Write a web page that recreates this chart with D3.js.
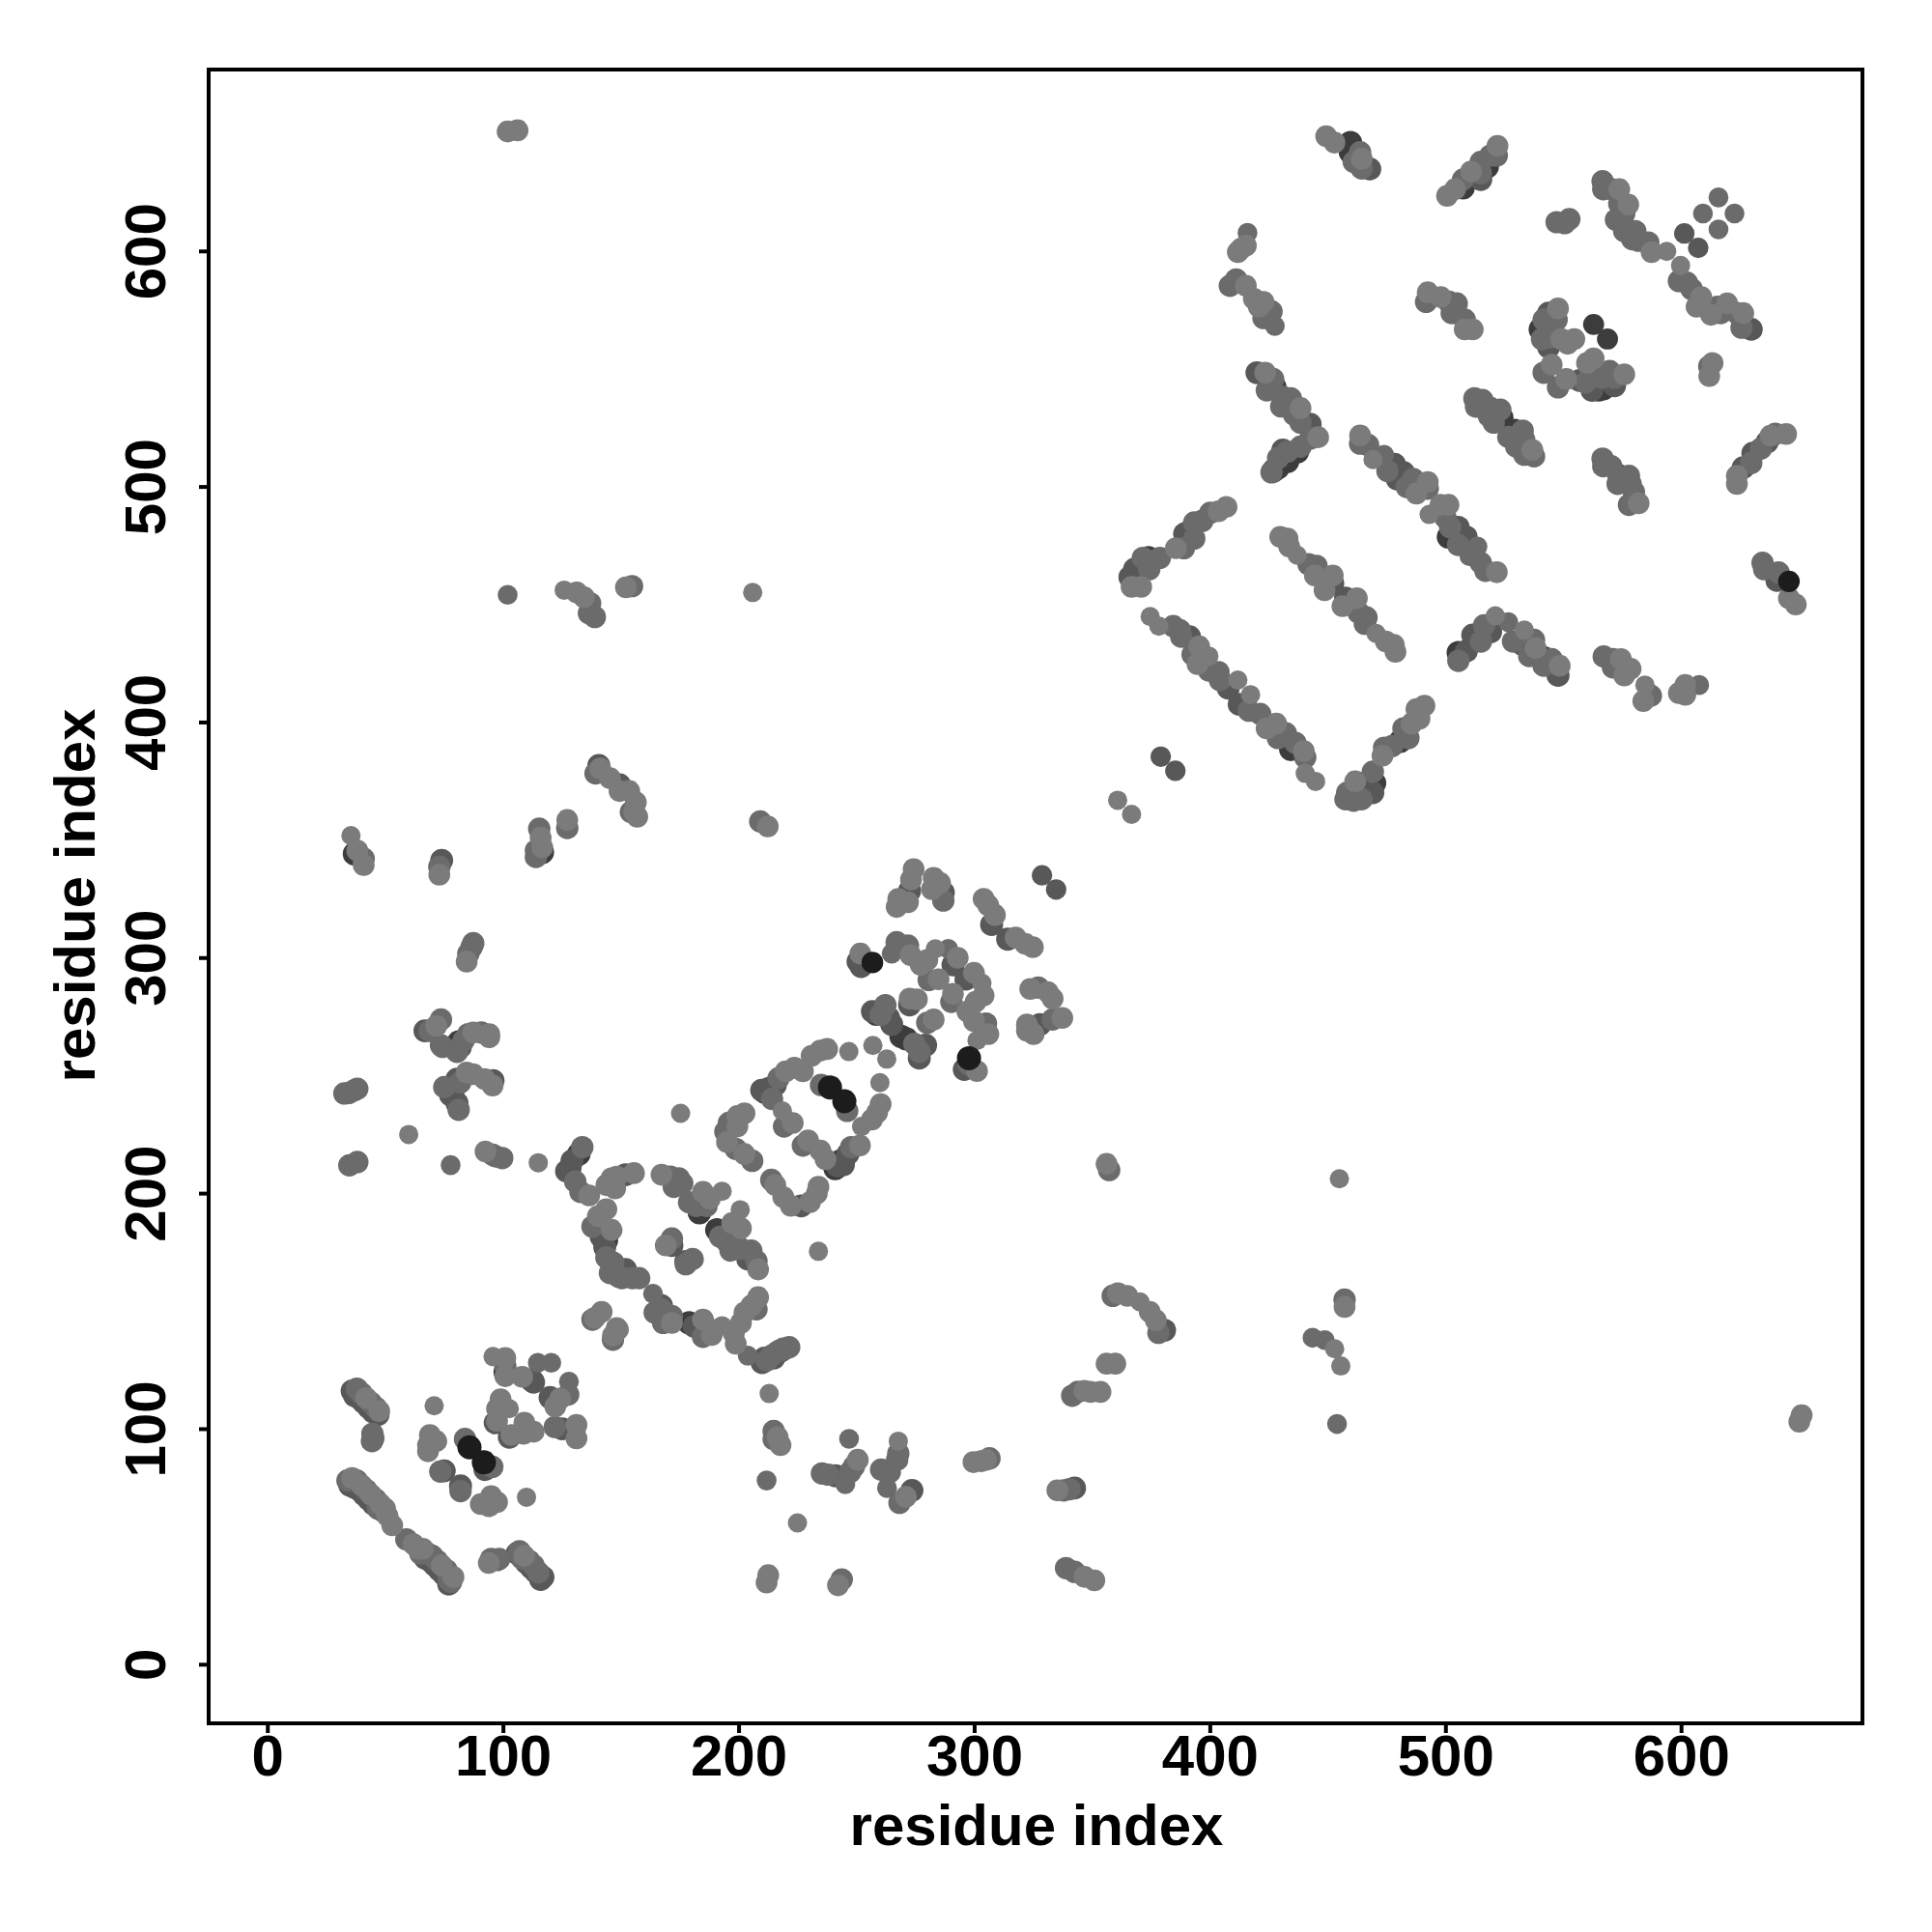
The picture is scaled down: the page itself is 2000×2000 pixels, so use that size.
<!DOCTYPE html>
<html><head><meta charset="utf-8"><script src="https://cdn.jsdelivr.net/npm/d3@7"></script>
<style>html,body{margin:0;background:#fff}svg{display:block}text{font-family:"Liberation Sans",Arial,sans-serif;font-weight:bold;fill:#000}</style></head>
<body><div id="c"></div>
<script>
const xTicks=[0,100,200,300,400,500,600];
const yTicks=[0,100,200,300,400,500,600];
const axisTitle="residue index";
const shades=["#7b7b7b","#6b6b6b","#585858","#3c3c3c","#1c1c1c"];
const drawRank=[3,2,1,0,4];
// each contact: [residue i, residue j, shade index]
const lowerLeft=[
[34,78,1],[35,76,2],[36,79,0],[37,75,2],[38,78,1],[39,74,2],[40,76,0],[41,72,2],[42,74,1],[43,70,2],[44,72,0],[45,68,2],[46,70,1],[47,66,1],[48,68,0],[49,65,1],[50,66,0],[51,63,0],[53,59,0],[59,53,1],[62,51,0],[64,49,0],[65,47,1],[66,49,0],[67,45,2],[68,47,1],[69,44,2],[70,46,1],[71,42,2],[72,44,1],[73,40,2],[74,42,0],[75,38,2],[76,40,1],[77,34,2],[77,36,1],[78,35,1],[79,37,0],
[36,116,2],[37,114,2],[38,117,1],[39,113,2],[40,115,1],[41,111,2],[42,113,0],[43,109,2],[44,111,1],[45,107,2],[46,109,1],[47,106,2],[47.5,107.5,0],
[44.4,94.7,1],[44.6,97.8,1],[45,96,1],
[70.8,109.7,0],[68.2,90.4,0],[68.2,93,0],[71.7,94.7,0],[69,97.3,0],
[83.9,95.6,1],[85.8,92.1,4],[92.4,82.6,2],[91.9,85.7,4],[95.5,83.8,1],
[73.4,81.8,1],[75.1,82.1,2],[82,73.5,1],[82,75.7,2],
[90.6,68,0],[94.1,67.1,0],[95,71.4,0],[97.5,68.8,0],[110,70.9,0],
[94,43,0],[95,44.7,1],[97.5,44.2,1],[98.4,44.7,1],
[106,47,2],[107,48,1],[108,45,1],[109,46,0],[110,43,2],[111,44,1],[112,41,2],[113,42,1],[114,39,2],[115,39,1],[116,36,2],[117,37,2],
[95.8,130.6,0],[101,122.3,0],[101,124,3],[101,126.6,1],[101,130,0],
[108.2,122,0],[114.8,128,1],[120.5,128,1],[112.2,120.6,3],[113,119.7,2],[128,120,1],[127.7,114.5,1],[120,113.2,2],[124.3,112.8,0],[122.2,109.4,0],
[96.7,102.5,2],[97.5,103.3,0],[97.5,108.5,0],[99,112.5,0],[102.7,108.5,0],
[102.7,96.4,2],[103.6,97.3,0],[108.7,97.8,0],[109.1,102.5,0],[113,98.7,0],
[122,100.7,1],[125.1,99.9,2],[131.2,95.9,0],[130.3,99.9,2],[131.2,101.6,0],
[138,146.3,1],[139,147,0],[141.9,149.6,0],[146.7,137.8,1],[146.7,139.6,0],[148.8,142.1,0],[148.3,142.7,0],
[213,114.9,0],[214.9,99,1],[214.9,95.6,1],[216.6,96.4,0],[217.8,93,0],[211.9,78,1],[225,60,0],[211.9,34.7,0],[212.6,37.8,0],
[60,224.9,0],[34.8,211.8,1],[38.2,213.2,1],[77.8,211.9,1],[92.6,217.7,0],[95.6,216.3,1],[96.9,215.6,1],[99.7,214.9,1],[115,212.9,0]
];
const firstRing=[
[210,128,2],[211,130,2],[212,129,1],[213,130,2],[214,131,1],[215,130,2],[216,132,2],[217,133,1],[218,133,2],[219,134,1],[220,134,1],[221.5,134.6,1],
[203.9,131,1],[198.8,136.1,0],[198,140.5,0],[201,144.9,0],[202.5,149.3,0],[207.6,150.7,1],[205.4,152.2,0],[208.3,155.8,0],
[193,143.7,0],[179,144.9,3],[181.2,143.4,2],[184.9,139,1],[187.8,141.9,2],[188.6,139.8,0],[184.9,146.3,0],
[164.4,149.3,1],[168,144.9,1],[171.7,144.9,0],[171.7,147.8,1],[167.3,150.7,1],[167.3,152.2,2],[163.7,157.3,1],
[143.9,172.7,1],[145.4,166.1,1],[146.8,170.5,1],[149,164.6,1],[150.5,163.9,1],[152,167.6,2],[154.9,163.9,1],[157.8,163.9,1],
[143.2,177.1,2],[143.9,180,3],[141.7,181.5,2],[138,185.8,1],[146.1,184.4,0],[140.3,190.2,0],[143.9,193.2,0],
[132.9,200.5,1],[127,209.3,2],[128.5,210.7,2],[129.3,213.7,2],[130.7,204.9,1],[136.6,199,0],[132.2,216.6,3],[133.7,219.5,1],
[143.9,203.4,0],[147.6,202,0],[146.1,206.3,0],[148.3,207,0],[152,207.8,2],[155.6,208.5,0],
[169.1,177.8,0],[171.7,177.8,2],[171.7,180.7,1],[177.6,169.8,1],[177.6,171,2],[180.5,172,1],
[167.3,207.8,0],[171,207,1],[174.6,206.3,1],[172.5,202.7,1],[176.1,204.2,1],[179,196.1,1],[182,194.6,1],[183.4,191.7,3],[186.4,194.6,1],[184.9,200.5,0],[187.8,197.6,0],[193,200.8,0],
[200.7,192.9,0],[190.8,184.4,3],[192.2,181.5,1],[195.1,179.3,1],[196.6,175.6,1],[197.3,187.3,0],[201,185.1,0],[201,176.4,1],[203.9,172,2],[205.4,175.6,1],[207.6,171.2,1],[208.3,167.6,0],
[175.4,233.9,0],[233.9,175.3,0]
];
const secondRing=[
[202.5,233.9,0],[199.5,232.7,0],[195.9,229.8,1],[194.4,226.1,1],[195.1,221.7,0],[199.5,228.3,0],[198.8,218.8,1],[202.5,216.6,0],[205.8,213.7,1],
[213.9,205.6,1],[215.6,203.4,0],[219,198.3,0],[222.2,194.6,0],[226.6,194.6,2],[230.3,196.1,0],[233.2,199.8,0],[233.9,202.7,0],
[209.8,243.7,2],[211.2,242.9,3],[212.7,244.4,2],[214.2,240,1],[215.6,245.9,2],[217,248.8,1],[220,251.7,0],[223.7,253.2,0],[227.3,251.7,0],[231,258.3,0],[234.7,260.5,0],[237.6,261.2,0],
[219.3,228.3,1],[218.6,234.9,0],[223,229.8,0],[227.3,220.2,1],[229.5,222.4,0],[234.7,218.1,0],[236.9,214.4,0],
[241,210.5,3],[242,211.5,2],[243.4,213.7,3],[244.5,212,2],[246.4,216.6,2],[247.8,219.5,1],[251.5,220.2,0],[252.2,228.3,0],[256.6,231.2,0],[258.8,234.2,0],[260.3,237.8,0],
[235,245.9,1],[238.8,244.9,4],[244.9,239,4],[246.1,234.9,1],[246.8,260.1,0],[257,262.7,0],[262.9,256.9,0],[260,246.9,0]
];
const thirdRing=[
[328.8,334.9,2],[334.8,328.9,2],
[267.8,324.9,0],[267.1,321.5,0],[271.9,323.5,0],[272.6,328.3,2],[273.2,333.1,0],[274.3,337.5,0],[282.8,333.8,0],[282.1,329,0],[285.5,331.7,0],[286.9,324.2,1],[286.9,327.6,2],
[304,324.9,0],[306,322.2,0],[307.4,314,2],[308.8,318.1,0],[314.2,307.8,2],[317.6,308.5,0],[321.7,305.8,0],[324.9,304.4,0],
[250.7,298.3,2],[251.7,301.7,0],[252,296.2,2],[256.8,297.9,4],
[265,301.7,1],[267.1,306.5,1],[271.9,305.1,1],[273,301,0],[277.3,296.9,0],[280.1,299,0],[283.5,303.7,0],[289,303.7,1],[291,296.9,2],[293,299.9,0],[280.7,290.5,1],[284.9,290.8,0],
[296.5,290.8,2],[299.9,293.5,0],[303.3,289.1,0],[304,283.9,0],[300.6,281.2,0],[297.1,277.1,0],[299.9,273,0],[290.3,281.2,1],[291,284.6,0],
[301.2,264.8,0],[305,272,1],[306,267.5,0],
[272.6,279.9,2],[272.6,282.6,0],[275.7,282.3,0],[280.1,272.3,1],[282.8,273.7,0],
[256.8,277.1,2],[258.5,276,3],[260.3,275.7,1],[262.3,279.8,1],[263.7,274.4,2],[265,271.6,2],
[269,266.5,3],[271.2,265.5,3],[274.6,263.4,1],[276.7,257.3,2],[276.7,260,1],[279.4,262.8,2],
[295.8,252.5,2],[297.8,254.6,1],[297.8,257.3,4],[301.2,251.8,0],
[323.8,286.7,0],[327.2,287.3,1],[331.3,285.3,0],[333.3,282.6,0],[322.4,268.9,0],[322.4,271.6,0],[325.2,267.5,0],[327.9,271.6,2],[333.3,273.7,1],[337.4,274.4,0]
];
const upperLeft=[
[102,650.7,0],[106.2,651.2,0],[102,454,1],[126,456,0],[131.3,455,0],[134.4,453,0],[137,450.4,1],[136.5,446.2,1],[139,444.6,1],[152.2,457.2,0],[154.8,457.7,1],[206,455,0],[209.2,357.8,1],[212.4,355.7,0],
[37,344,3],[35.5,351.8,0],[38.2,345.4,0],[40.9,339.3,0],[40.9,342,1],
[73,335.2,0],[73,338.6,1],[74,341.3,2],
[114,342.7,1],[114,345.4,1],[116.7,344.7,3],[116.7,346.8,0],[115.4,354.7,1],[116,350.9,0],
[127.3,358.4,0],[127.3,355,1],
[139.3,378.2,1],[140.7,381.6,2],[141.3,380.3,0],[145.4,376.2,0],[149.5,370.7,0],[149.5,373.4,2],[153.6,370.7,0],[154.3,361.8,1],[155.7,361.8,0],[156.4,365.9,0],[157,359.8,0],
[84.6,298.3,0],[85.3,301.7,1],[86.7,304.4,1],[87.4,306.1,1],
[66.9,268.9,2],[68.9,268.9,1],[71.7,271,0],[73.7,273.7,1],
[73.7,262.8,1],[74.4,262.1,1],[80.5,260,1],[81.2,264.1,3],[81.9,262,2],[83.3,264.8,1],[85.3,267.5,1],[87.4,268.2,0],[90.8,268.2,1],[94.2,266.2,0],[94.2,267.5,0],
[75.1,245,1],[79.2,244.3,2],[80.5,248.4,2],[81.9,247,1],[84.6,251.2,0],[87.4,250.5,0],[77.8,241.6,2],[81.2,235.4,1],[80.5,238.2,2],[92.2,248.4,0],[95.6,245.7,0],[95.8,247.8,2],
[32.7,242.3,1],[34.5,242.5,1],[36.8,243.6,1],[38.2,244.3,1]
];
const lowerRight=[
[356.2,212.4,0],[357.3,209.8,1],[455,206.1,0],
[358.8,156.4,1],[361,157.5,0],[365,156.4,0],[370.4,153.8,0],[374.5,149.6,0],[378.2,140.7,1],[377.1,146,0],[380.8,141.8,2],
[443.6,138.6,1],[448.8,137.6,1],[453,133.9,0],[455.6,126.6,0],[457.2,151.7,0],[457.2,154.8,1],[454,102,1],[650.2,103,0],[651.2,105.7,0],
[356.2,127.6,0],[359.9,127.6,0],[341.6,114,1],[344,115.6,1],[346.8,116.1,0],[349.4,115.6,0],[353.6,115.6,0],
[299.7,85.8,0],[303,86.2,0],[305,86.8,0],[306.5,87.4,1],
[335.3,73.8,0],[338,73.8,1],[340.5,74.3,1],[342.6,74.8,2],
[339,40.8,1],[342.6,39.2,1],[346.8,37.1,0],[351,35.6,0],
[242.2,33.5,0],[243.8,36,1],
[235.4,81,1],[238,80.5,1],[241.1,80,2],[245.3,76.4,1],[246.9,95.7,1],[247.4,81.6,1],[250.6,86.8,0],[249,84,1],
[267.8,94.7,0],[267.8,89.4,1],[267.3,86.8,1],[260.5,82.6,1],[264.2,81.6,1],[263,74.8,1],[268.3,68.5,1],[271,71.1,0],[273.6,73.8,2]
];
const boxStrands=[
[360.9,366.8,0],[366.8,360.8,0],[379.2,385.3,2],[385.4,379.3,2],
[374.7,444.8,0],[378.4,440.7,0],[384.5,440.7,1],[387.3,439,1],[387.9,436.2,1],[391.4,436.2,2],[392.7,428.7,1],[394.8,424.6,0],[395.5,432.1,0],[399.6,421.9,1],[399.6,428,0],[403.7,421.2,1],[404.3,417.8,1],[407.8,414.4,2],[411.9,417.8,0],
[412.5,407.5,2],[416.6,404.8,1],[417.3,411.6,0],[421.4,403.4,1],[424.1,397.3,0],[428.2,399.3,0],[428.9,393.2,1],[432.3,395.2,1],[434.4,388.4,3],[436.4,391.1,1],[439.9,387.7,0],[440.5,385,1],[440.5,378.2,0],[444.9,374.8,0],
[385.6,473.8,0],[389,473.8,1],[389.3,479.9,2],[392,481.3,3],[393.4,477.9,1],[393.4,484.7,1],[396.8,485.4,1],[400.2,488.8,1],[403.7,489.5,0],[407.1,491.3,0],
[366.8,457.4,0],[370.9,457.4,0],[366.1,461.5,2],[369.5,460.8,2],[368.1,464.9,2],[371.6,469.7,1],[374.3,464.9,1],[374,469.7,3],[378.8,469.7,1],
[429.9,478.6,0],[433,477.9,0],[433.7,474.5,0],[437.1,470.8,0],[441.9,467,1],[445.3,466.3,1],[444.6,462.2,0],[448.7,456,0],[452.2,458.8,2],[452.2,462.2,0],
[456.3,449.2,0],[457.6,452.6,2],[463.1,446.5,1],[462.4,452.6,0],[465.8,441.7,1],[466.5,444.4,1],[470.6,437.6,0],[474.7,434.2,0],[478.1,432.8,0],[478.8,429.8,0],
[457.6,367.2,1],[458.3,370,1],[461,366.6,1],[461.7,374.8,0],[464.4,367.2,1],[465.1,374.1,2],[465.8,369.3,3],[469.2,370,2],[469.9,374.1,3],[469.2,378.9,1],
[473.3,385.7,0],[474,389.1,1],[477.4,389.8,1],[480.8,391.8,3],[484.3,393.2,1],[482.2,397.3,1],[485.6,399.3,0],[489,401.4,0],[487.7,405.5,0],[491.1,406.9,0]
];
const upperRight=[
[449.4,648.7,0],[452.9,646,0],[459.7,641.9,3],[459.7,646,3],[461.1,637.8,1],[463.8,641.9,1],[464.5,635,1],[464.5,639.1,0],[467.9,634.8,2],
[500.7,623.4,0],[504.1,626.2,0],[507.5,626.8,3],[507.5,630.3,1],[510.9,633.7,0],[515,630.3,2],[515,633,1],[515,637.8,1],[517.7,635.7,3],[519.1,640.5,1],[521.8,640.5,1],[522.1,644.6,0],
[416,607.7,1],[411.9,599.5,0],[413.2,600.9,0],[415.3,602.3,0],
[408.5,585.2,1],[411.2,587.9,1],[415.3,585.2,0],[418.7,579.7,0],[420.8,576.3,0],[422.8,578.4,0],[422.8,571.5,1],[426.2,574.3,1],[427.6,568.1,1],
[492.5,582.4,0],[491.8,578.4,1],[498,580.4,0],[502.7,573.6,1],[501.4,578.4,1],[504.8,577.7,1],[508.2,570.8,1],[508.2,566.7,0],[511.6,566.7,0],
[420,548.3,2],[423.5,548.3,0],[424.2,540.8,1],[426.9,545.6,1],[427.6,542.1,3],[431,538,1],[434.4,537.4,1],[430.3,534,1],[435.8,530.5,1],[438.5,533.3,0],[438.5,527.1,1],[442.6,526.4,2],[442.6,520.3,1],[446,520.9,0],
[426.2,506,1],[426.9,506.6,3],[429,508,3],[429,512.1,1],[431,515.5,2],[433,510.7,3],[433,514.8,1],[437.2,514.8,3],[438.5,516.9,1],
[463.8,518.2,1],[463.8,521.7,0],[467.2,517.6,1],[469.3,511.4,0],[474,513.5,1],[475.4,506.6,1],[478.4,509.4,2],[479.5,503.2,2],[482.2,505.9,2],[483.6,499.8,1],[486.3,503.2,1],[487.7,497,0],[492.5,499.1,1],[492.5,501.9,0],
[493.1,488.1,0],[497.9,492.2,0],[501.3,492.2,0],[500,486.8,1],[501.3,478.6,3],[502,482.7,1],[505.4,475.2,1],[505.4,482.7,2],[508.8,478.6,2],[510.2,470.4,1],[513.6,474.5,1],[515,467.6,1],[517,464.2,1],[521.8,463.6,0],
[547.2,612.2,1],[550.6,611.8,1],[552.6,613.5,1],
[566.7,629.6,1],[567,626.2,1],[570.4,626.2,1],[572.4,613.2,1],[573.8,620,1],[573.8,626.2,0],[575.9,615.9,1],[577.6,619.7,0],[575.9,608.4,1],[579.3,605,1],[580.6,608.4,1],[582,604.3,1],[586.1,603.6,1],[587.5,599.5,0],[593.9,599.8,0],[599.8,593.8,0],
[599.1,587.2,1],[602.5,586.5,1],[604.5,583.8,1],[606.6,576.3,0],[608.6,580.4,0],[612.7,572.9,0],[615.5,576.3,1],[616.8,573.6,1],[619.6,577.7,0],[623.7,573.6,1],[625.7,567.4,1],[626.4,573.6,0],[629.8,566.7,2],
[601.4,607.4,2],[607.3,601.3,2],[609.3,615.9,1],[615.9,622.7,1],[622.7,615.9,1],[615.9,609.1,1],[612,546.9,0],[612,551,1],[613.4,552.4,0],
[540.3,566.7,3],[541,562.6,1],[543.8,559.2,2],[541.7,570.8,1],[543.8,573.6,2],[544.4,563.3,1],[547.2,570.8,1],[547.8,575.6,0],[549.2,562.6,0],[551.9,560.6,0],[554.7,562.6,0],
[562.9,568.8,3],[568.8,562.6,3],
[541.7,548.3,1],[545.1,551.7,0],[547.8,542.1,1],[551.3,545.6,0],[560.1,552.4,0],[562.9,554.4,0],
[557,545,2],[559.5,544.2,1],[562.2,540.8,2],[565,541,3],[567,541.5,3],[566.3,546.2,1],[569.7,549,1],[571.8,542.8,2],[571.8,546.2,1],[575.9,547.6,0],
[512.3,537.4,1],[513,533.9,1],[515.7,536.7,1],[518.5,529.9,1],[519.2,533.3,1],[520.5,527.1,1],[523.9,529.2,3],[523.3,532.6,1],
[529.4,523.7,3],[526.7,521,1],[532.8,523.7,1],[533.5,519.6,1],[530.1,516.9,1],[533.5,513.5,1],[536.9,515.5,0],[537.6,512.8,1],
[566.7,511.8,1],[567,508.6,1],[570.4,508.6,1],[573.1,501.1,1],[573.8,504.5,3],[577.9,504.5,1],[578.6,501.1,1],[580,497.7,1],[577.9,492.2,1],[582,492.9,0],
[623.7,501.1,0],[623.7,504.5,0],[626.4,508,2],[629.8,510,1],[630.5,514.1,2],[633.9,516.1,1],[636.6,518.9,2],[638,521.6,0],[640,522.3,1],[644.6,522.3,0],
[634.6,467.6,1],[635.3,464.9,1],[640.7,460.1,2],[641.4,463.5,1],[645.8,452.6,0],[648.7,449.9,0],[645.8,459.7,4],
[505.5,426,1],[505.5,429.4,3],[508.9,430.1,2],[511.6,436.9,2],[515.1,434.2,1],[516.4,441,1],[519.2,438.3,2],[521.2,445.1,0],[526.7,442.4,1],[528.7,434.2,1],[532.8,432.8,2],[533.5,439,0],[535.6,428,1],[537.6,434.9,1],[538.3,431.4,0],[541.7,423.9,1],[541.7,427.3,3],[545.1,426.7,1],[547.8,419.8,2],[548.5,423.9,0],
[567.2,427.8,1],[571.1,423.2,1],[571.1,426.7,1],[574.5,426.7,0],[575.9,419.8,0],[578.6,422.6,0],[584,408.9,0],[584.7,415.7,0],[587.2,411.2,1],
[599.1,412.3,0],[601.8,411.6,0],[601.8,415.7,0],[607.7,415.7,1]
];
const contacts=[...lowerLeft,...firstRing,...secondRing,...thirdRing,...upperLeft,...lowerRight,...boxStrands,...upperRight];

const svg=d3.select("#c").append("svg").attr("width",2000).attr("height",2000);
const box={l:216,r:1928,t:72,b:1784};
const x=d3.scaleLinear().domain([-24.9,677]).range([box.l,box.r]);
const y=d3.scaleLinear().domain([-25.1,677]).range([box.b,box.t]);
// points in a dense strand read larger than isolated ones; darker ones are slightly larger
const radius=d=>{
  const crowded=contacts.some(o=>o!==d&&Math.hypot(o[0]-d[0],o[1]-d[1])<5);
  return 10+0.3*d[2]+(crowded?1.3:0);
};
const ordered=d3.sort(contacts,(a,b)=>d3.ascending(drawRank[a[2]],drawRank[b[2]]));
svg.append("g").selectAll("circle").data(ordered).join("circle")
 .attr("cx",d=>x(d[0])).attr("cy",d=>y(d[1])).attr("r",radius).attr("fill",d=>shades[d[2]]);
svg.append("rect").attr("x",box.l).attr("y",box.t).attr("width",box.r-box.l).attr("height",box.b-box.t)
 .attr("fill","none").attr("stroke","#000").attr("stroke-width",4);
const ax=svg.append("g").attr("transform",`translate(0,${box.b})`).call(d3.axisBottom(x).tickValues(xTicks).tickSize(10).tickPadding(0));
ax.select(".domain").remove();
ax.selectAll("line").attr("stroke","#000").attr("stroke-width",4);
ax.selectAll("text").attr("y",54).attr("dy",0).style("font-size","60px").attr("text-anchor","middle");
const ay=svg.append("g").attr("transform",`translate(${box.l},0)`).call(d3.axisLeft(y).tickValues(yTicks).tickSize(10));
ay.select(".domain").remove();
ay.selectAll("line").attr("stroke","#000").attr("stroke-width",4);
ay.selectAll("text").attr("x",0).attr("y",0).attr("dy",0).attr("text-anchor","middle").style("font-size","60px")
 .attr("transform",d=>`translate(-45,0) rotate(-90)`);
svg.append("text").attr("x",1073).attr("y",1910).attr("text-anchor","middle").style("font-size","60px").text(axisTitle);
svg.append("text").attr("transform","translate(98,927) rotate(-90)").attr("text-anchor","middle").style("font-size","60px").text(axisTitle);
</script></body></html>
